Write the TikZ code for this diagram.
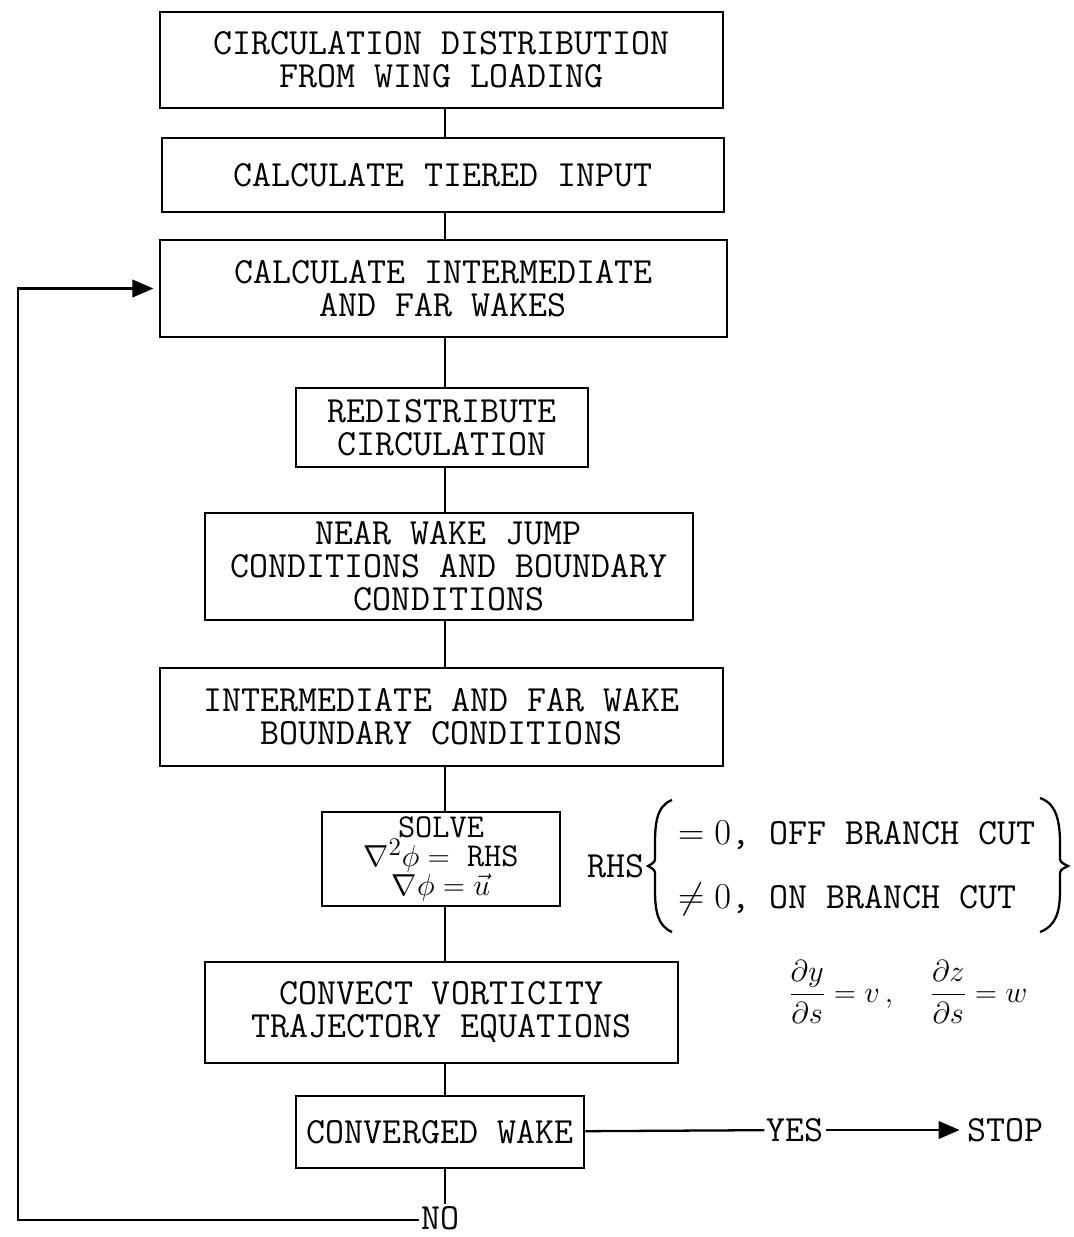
\documentclass[tikz,border=0pt]{standalone}
\usepackage{fontspec}
\usepackage{amsmath}
\usetikzlibrary{positioning, arrows.meta}

\begin{document}
\begin{tikzpicture}[x=0.02cm, y=-0.02cm,
    stepbox/.style={draw, line width=1.6pt, inner sep=0pt, align=center, font=\ttfamily\fontsize{21}{18.8}\selectfont},
    tag/.style={inner sep=1pt, font=\ttfamily\fontsize{21}{18.8}\selectfont},
    flow/.style={line width=1.3pt},
    arrow/.style={flow, -{Triangle[length=12pt,width=10pt]}, shorten >=3pt}
]
\useasboundingbox (0,0) rectangle (1074,1237);

% boxes of the loop
\node[stepbox, minimum width=11.26cm, minimum height=1.92cm] (n1) at (441.5,60) {CIRCULATION DISTRIBUTION\\FROM WING LOADING};
\node[stepbox, minimum width=11.24cm, minimum height=1.48cm] (n2) at (443,175) {CALCULATE TIERED INPUT};
\node[stepbox, minimum width=11.34cm, minimum height=1.94cm] (n3) at (443.5,288.5) {CALCULATE INTERMEDIATE\\AND FAR WAKES};
\node[stepbox, minimum width=5.84cm, minimum height=1.58cm] (n4) at (442,427.5) {REDISTRIBUTE\\CIRCULATION};
\node[stepbox, minimum width=9.76cm, minimum height=2.14cm] (n5) at (449,566.5) {NEAR WAKE JUMP\\CONDITIONS AND BOUNDARY\\CONDITIONS};
\node[stepbox, minimum width=11.26cm, minimum height=1.96cm] (n6) at (441.5,717) {INTERMEDIATE AND FAR WAKE\\BOUNDARY CONDITIONS};
\node[stepbox, minimum width=4.76cm, minimum height=1.88cm,
  font=\ttfamily\fontsize{19}{16.5}\selectfont] (n7) at (441,859)
  {SOLVE\\$\nabla^2\phi=$ RHS\\$\nabla\phi=\vec{u}$};
\node[stepbox, minimum width=9.46cm, minimum height=2.02cm] (n8) at (441.5,1012.5) {CONVECT VORTICITY\\TRAJECTORY EQUATIONS};
\node[stepbox, minimum width=5.76cm, minimum height=1.44cm] (n9) at (440,1132) {CONVERGED WAKE};

% side notes
\node[tag] (rhs) at (616,866) {RHS};
\node[tag, anchor=west] (off) at (676,835) {$=0$, OFF BRANCH CUT};
\node[tag, anchor=west] (on) at (676,899) {$\neq 0$, ON BRANCH CUT};
\draw[flow] (672,800) .. controls (656,806) and (655,825) .. (655,845)
  -- (655,856) .. controls (655,862) .. (648,866) .. controls (655,870) .. (655,876)
  -- (655,890) .. controls (655,912) and (658,926) .. (672,932);
\draw[flow] (1040,798) .. controls (1058,804) and (1060,825) .. (1060,845)
  -- (1060,856) .. controls (1060,862) .. (1068,866) .. controls (1060,870) .. (1060,876)
  -- (1060,890) .. controls (1060,912) and (1056,926) .. (1040,932);
\node[tag, font=\fontsize{18}{20}\selectfont] (traj) at (908,992) {$\dfrac{\partial y}{\partial s}=v\,,\quad\dfrac{\partial z}{\partial s}=w$};

% exits
\node[tag] (yes) at (795,1130) {YES};
\node[tag] (stop) at (1005,1130) {STOP};
\node[tag] (no) at (440,1218) {NO};
\coordinate (spine) at (445,0);
\coordinate (loopx) at (18,1220);

% connectors
\foreach \a/\b in {n1/n2, n2/n3, n3/n4, n4/n5, n5/n6, n6/n7, n7/n8, n8/n9}
  \draw[flow] (\a.south -| spine) -- (\b.north -| spine);
\draw[flow] (n9.south -| spine) -- (no.north -| spine);
\draw[flow] (n9) -- (yes);
\draw[arrow] (yes) -- (stop);
\draw[arrow] (no.west |- loopx) -- (loopx) |- (n3.west);

\end{tikzpicture}
\end{document}
